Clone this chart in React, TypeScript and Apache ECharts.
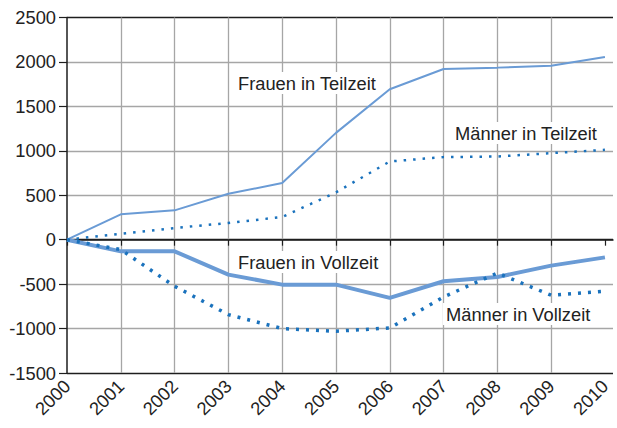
import React, { useEffect, useRef } from "react";
import * as echarts from "echarts";

const years = [2000, 2001, 2002, 2003, 2004, 2005, 2006, 2007, 2008, 2009, 2010];
const frauenTeilzeit = [0, 285, 330, 517, 637, 1202, 1693, 1921, 1936, 1958, 2056];
const maennerTeilzeit = [0, 67, 131, 188, 255, 532, 880, 929, 936, 974, 1011];
const frauenVollzeit = [0, -131, -131, -393, -506, -506, -655, -468, -420, -292, -199];
const maennerVollzeit = [0, -112, -524, -843, -1000, -1030, -993, -644, -375, -625, -580];
const yTicks = [-1500, -1000, -500, 0, 500, 1000, 1500, 2000, 2500];

const seriesLabels = ["Frauen in Teilzeit", "Männer in Teilzeit", "Frauen in Vollzeit", "Männer in Vollzeit"];

const FONT = "'Liberation Sans', Arial, Helvetica, sans-serif";
const FS = 18.3;
const LIGHT = "#6a9bd5";
const DARK = "#1a72bd";
const GRID = "#a6a6a6";
const AXIS = "#1e1e1e";

const pairs = (vals: number[]) => years.map((y, i) => [y, vals[i]]);

export default function App() {
  const ref = useRef<HTMLDivElement>(null);
  useEffect(() => {
    if (!ref.current) return;
    const chart = echarts.init(ref.current, null, { renderer: "svg" });
    const splitColors = yTicks.map((v) =>
      v === 0 || v === yTicks[0] || v === yTicks[yTicks.length - 1] ? AXIS : GRID
    );
    const labelStyle = {
      fontFamily: FONT,
      fontSize: FS,
      fill: "#222",
      backgroundColor: "#fff",
      padding: [2, 3],
    };
    chart.setOption({
      animation: false,
      backgroundColor: "#fff",
      grid: { left: 67, right: 4, top: 17.5, bottom: 55, containLabel: false },
      xAxis: {
        type: "value",
        min: years[0],
        max: years[years.length - 1] + 0.15,
        interval: 1,
        axisLine: { show: true, lineStyle: { color: AXIS, width: 1.5 } },
        axisTick: {
          show: true,
          length: 6,
          customValues: years,
          lineStyle: { color: AXIS, width: 1.2 },
        },
        axisLabel: {
          customValues: years,
          rotate: 45,
          margin: 10,
          fontFamily: FONT,
          fontSize: FS,
          color: "#222",
          formatter: (v: number) => String(v),
        },
        splitLine: {
          show: true,
          showMinLine: false,
          showMaxLine: false,
          lineStyle: { color: GRID, width: 1.3 },
        },
      },
      yAxis: {
        type: "value",
        min: yTicks[0],
        max: yTicks[yTicks.length - 1],
        interval: 500,
        axisLine: { show: true, lineStyle: { color: AXIS, width: 1.5 } },
        axisTick: { show: true, length: 8, lineStyle: { color: AXIS, width: 1.2 } },
        axisLabel: {
          margin: 11,
          fontFamily: FONT,
          fontSize: FS,
          color: "#222",
          formatter: (v: number) => String(v),
        },
        splitLine: { show: true, lineStyle: { color: splitColors, width: 1.4 } },
      },
      series: [
        {
          name: seriesLabels[0],
          type: "line",
          data: pairs(frauenTeilzeit),
          symbol: "none",
          lineStyle: { color: LIGHT, width: 2 },
          z: 3,
        },
        {
          name: seriesLabels[1],
          type: "line",
          data: pairs(maennerTeilzeit),
          symbol: "none",
          lineStyle: { color: DARK, width: 2.5, type: [2.5, 7] },
          z: 3,
        },
        {
          name: seriesLabels[2],
          type: "line",
          data: pairs(frauenVollzeit),
          symbol: "none",
          lineStyle: { color: LIGHT, width: 4 },
          z: 3,
        },
        {
          name: seriesLabels[3],
          type: "line",
          data: pairs(maennerVollzeit),
          symbol: "none",
          lineStyle: { color: DARK, width: 3.5, type: [3, 7] },
          z: 3,
        },
      ],
      graphic: [
        { type: "text", left: 235, top: 72, z: 10, style: { ...labelStyle, text: seriesLabels[0] } },
        { type: "text", left: 452, top: 122, z: 10, style: { ...labelStyle, text: seriesLabels[1] } },
        { type: "text", left: 235, top: 251, z: 10, style: { ...labelStyle, text: seriesLabels[2] } },
        { type: "text", left: 443, top: 303, z: 10, style: { ...labelStyle, text: seriesLabels[3] } },
      ],
    });
    return () => chart.dispose();
  }, []);
  return <div ref={ref} style={{ width: 617, height: 428, position: "absolute", left: 0, top: 0 }} />;
}
